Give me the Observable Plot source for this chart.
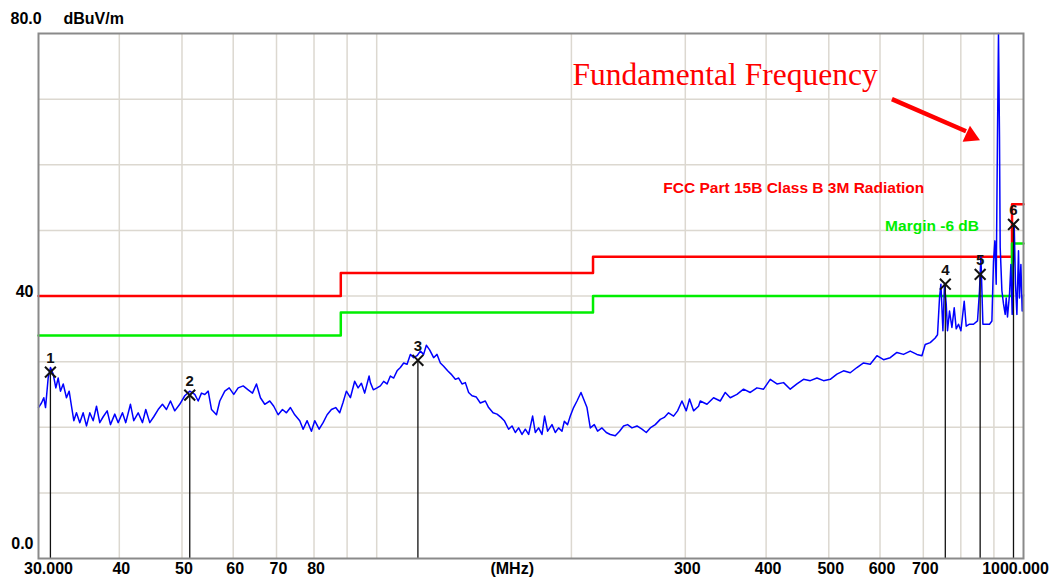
<!DOCTYPE html>
<html><head><meta charset="utf-8">
<script src="https://cdn.jsdelivr.net/npm/d3@7"></script>
<script src="https://cdn.jsdelivr.net/npm/@observablehq/plot@0.6"></script>
<style>body{margin:0;background:#fff;}</style>
</head><body><div id="chart"></div>
<script>
// Measured trace: frequency (MHz) and level (dBuV/m)
const traceFreq = [30.0,30.32,30.57,30.76,31.05,31.31,31.61,31.91,32.18,32.44,32.76,33.14,33.46,33.74,34.02,34.34,34.75,35.17,35.59,36.01,36.45,36.88,37.31,37.77,38.31,38.76,39.36,39.84,40.45,40.93,41.62,42.11,42.78,43.44,43.95,44.58,45.22,45.93,46.64,47.31,47.99,48.73,49.6,50.5,51.41,52.33,52.97,53.59,54.23,54.89,55.54,56.53,57.2,58.23,59.15,60.12,61.07,62.17,63.28,64.26,65.18,66.11,67.13,68.34,69.32,70.41,71.5,72.52,73.56,74.7,76.04,76.96,78.06,79.27,80.2,81.47,82.63,83.82,85.11,86.42,87.66,88.73,89.77,91.06,92.46,93.59,94.7,95.81,97.33,97.78,98.8,100.13,101.32,102.51,103.76,104.99,106.23,107.52,108.79,110.08,111.42,112.73,114.06,115.45,116.81,118.19,119.33,120.74,122.47,123.96,125.43,126.91,128.73,130.29,132.3,133.87,135.5,137.1,138.72,140.4,142.57,144.61,147.21,148.95,151.3,153.47,155.67,157.51,159.94,161.89,163.8,165.73,167.75,169.73,171.74,174.2,175.88,177.96,180.12,181.8,183.75,186.65,188.85,191.08,193.41,195.0,197.3,199.21,201.56,204.02,206.94,208.87,211.41,213.91,216.98,219.54,223.0,226.44,229.69,233.81,237.41,240.82,244.27,248.13,252.58,257.11,261.08,264.82,269.58,274.42,278.35,282.64,287.72,291.85,296.45,301.0,304.58,308.95,314.49,316.4,324.04,331.74,339.75,345.85,352.07,360.55,369.13,378.03,387.16,396.38,405.93,415.73,425.61,435.89,446.4,457.01,468.06,479.35,490.74,502.58,514.71,526.94,539.66,552.68,565.82,579.47,593.45,607.56,622.22,637.24,652.38,668.13,684.25,696.54,704.76,717.42,730.3,736.31,741.57,745.27,750.6,754.88,759.46,762.99,768.44,775.03,781.4,786.98,793.45,800.26,809.71,815.49,825.12,836.95,848.95,855.01,859.28,865.42,875.64,885.99,893.59,898.69,903.18,907.37,911.58,914.83,918.09,920.38,925.97,931.26,936.91,940.25,944.61,951.36,956.11,960.55,965.0,967.41,971.9,976.76,982.33,985.84,990.76,995.36,1000];
const traceLevel = [23.0,23.7,24.5,23.0,27.5,29.1,28.1,26.0,27.5,25.5,26.6,24.5,25.5,23.2,21.0,22.2,20.7,22.2,20.2,22.2,21.0,23.2,20.7,21.6,22.5,20.4,22.0,20.7,22.2,20.7,23.5,21.0,22.2,20.7,22.7,20.7,21.6,22.7,23.5,22.7,24.0,22.5,23.5,24.8,25.5,25.0,24.0,25.2,25.0,25.5,22.7,21.9,24.0,25.5,26.0,25.0,26.0,26.3,25.7,25.2,26.6,24.5,23.5,24.0,23.2,21.9,22.7,22.2,23.0,21.9,21.0,19.7,21.0,19.4,21.0,19.7,20.7,21.9,22.7,23.0,22.2,23.8,25.5,24.5,27.0,26.0,26.7,25.2,27.8,26.8,25.7,26.0,26.3,27.0,26.6,27.8,27.5,28.6,29.1,29.8,29.6,31.1,30.6,30.9,31.6,31.1,32.5,31.8,30.6,31.1,29.8,29.3,28.6,28.1,27.3,27.5,26.6,26.8,25.3,24.8,24.6,23.7,24.0,23.0,22.2,22.0,21.5,21.0,19.7,20.2,19.2,19.9,18.9,19.7,18.9,21.7,19.2,19.9,18.9,21.7,19.4,20.4,19.2,19.9,19.4,20.9,20.4,21.7,23.0,24.0,25.3,24.3,23.0,19.9,20.4,19.4,19.9,19.2,18.9,18.7,19.4,20.2,20.4,19.9,20.2,19.7,19.2,19.9,20.4,21.2,21.5,22.2,21.7,22.5,24.0,22.5,24.3,22.5,23.2,24.0,23.5,24.5,24.0,25.3,24.5,25.0,25.8,25.3,26.0,25.8,27.3,26.6,26.8,25.8,26.6,27.3,27.1,27.5,27.1,27.3,28.1,28.6,28.3,29.1,29.8,29.6,30.9,30.3,30.6,31.4,31.1,31.6,31.1,30.9,32.6,32.9,33.6,34.1,39.7,41.8,34.7,41.8,38.8,34.7,37.7,35.2,38.2,35.0,35.7,34.7,39.2,35.4,35.7,35.7,36.2,40.8,46.0,35.7,35.7,35.7,36.2,45.3,48.4,41.8,64.7,80,64.2,47.4,40.8,38.8,37.2,39.7,36.8,40.2,44.8,37.2,45.8,51.0,41.8,37.2,46.9,39.7,44.8,37.7,40.2];

// FCC Part 15B Class B 3m limit and -6 dB margin (step-after)
const limitFreq = [30, 88, 216, 960, 1000];
const limitLevel = [40, 43.5, 46, 54, 54];
const marginLevel = [34, 37.5, 40, 48, 48];

// Markers
const markerFreq = [31.3, 51.4, 115.8, 757, 857, 965];
const markerLevel = [28.4, 24.9, 30.2, 41.8, 43.3, 50.9];
const markerLabel = ["1", "2", "3", "4", "5", "6"];

// Grid and tick labels
const gridFreq = [40, 50, 60, 70, 80, 90, 100, 200, 300, 400, 500, 600, 700, 800, 900];
const gridLevel = [10, 20, 30, 40, 50, 60, 70];
const tickFreq = [40, 50, 60, 70, 80, 300, 400, 500, 600, 700];
const tickLabels = ["40", "50", "60", "70", "80", "300", "400", "500", "600", "700"];

// Annotations
const titleText = ["Fundamental Frequency"];
const titleFreq = [200.7];
const titleLevel = [72.2];
const arrowFrom = [626, 70.0];
const arrowShaftEnd = [815, 65.1];
const arrowHead = [829, 64.4];
const arrowAngle = 115;
const limitText = ["FCC Part 15B Class B 3M Radiation"];
const limitTextPos = [277.4, 55.7];
const marginText = ["Margin -6 dB"];
const marginTextPos = [611, 49.9];

const trace = traceFreq.map((f, i) => ({f, v: traceLevel[i]}));
const limit = limitFreq.map((f, i) => ({f, v: limitLevel[i]}));
const margin = limitFreq.map((f, i) => ({f, v: marginLevel[i]}));
const markers = markerFreq.map((f, i) => ({f, v: markerLevel[i], label: markerLabel[i]}));

const sans = "'Liberation Sans', Arial, sans-serif";
const serif = "'Liberation Serif', 'Times New Roman', serif";
const bold = {fontFamily: sans, fontWeight: "bold", fill: "#000"};

const chart = Plot.plot({
  width: 1054,
  height: 579,
  marginLeft: 38,
  marginRight: 31,
  marginTop: 33,
  marginBottom: 21,
  style: {background: "#fff", overflow: "visible"},
  x: {type: "log", domain: [30, 1000], axis: null},
  y: {domain: [0, 80], axis: null},
  marks: [
    Plot.ruleX(gridFreq, {x: d => d, stroke: "#dcd8d0", strokeWidth: 1.5}),
    Plot.ruleY(gridLevel, {y: d => d, stroke: "#dcd8d0", strokeWidth: 1.5}),
    Plot.line(limit, {x: "f", y: "v", curve: "step-after", stroke: "#ff0000", strokeWidth: 2.5}),
    Plot.line(margin, {x: "f", y: "v", curve: "step-after", stroke: "#00ee00", strokeWidth: 2.5}),
    Plot.line(trace, {x: "f", y: "v", stroke: "#0000ff", strokeWidth: 1.5}),
    Plot.ruleX(markers, {x: "f", y1: 0, y2: "v", stroke: "#111", strokeWidth: 1.3}),
    Plot.dot(markers, {x: "f", y: "v", symbol: "times", r: 5, stroke: "#111", strokeWidth: 2}),
    Plot.text(markers, {x: "f", y: "v", text: "label", dy: -14, fontFamily: sans, fontWeight: "bold", fontSize: 15, fill: "#111"}),
    // bottom tick labels
    Plot.text(tickFreq, {x: d => d, text: tickLabels, frameAnchor: "bottom", dy: 10, dx: 2, lineAnchor: "middle", fontSize: 16, ...bold}),
    Plot.text([30], {x: d => d, text: ["30.000"], frameAnchor: "bottom", dy: 10, dx: 10, lineAnchor: "middle", fontSize: 16, ...bold}),
    Plot.text([1000], {x: d => d, text: ["1000.000"], frameAnchor: "bottom", dy: 10, dx: -8, lineAnchor: "middle", fontSize: 16, ...bold}),
    Plot.text([162], {x: d => d, text: ["(MHz)"], frameAnchor: "bottom", dy: 10, lineAnchor: "middle", fontSize: 16, ...bold}),
    // left labels
    Plot.text([80], {y: d => d, text: ["80.0"], frameAnchor: "left", textAnchor: "start", dx: -28, dy: -14.5, lineAnchor: "middle", fontSize: 16, ...bold}),
    Plot.text([80], {y: d => d, text: ["dBuV/m"], frameAnchor: "left", textAnchor: "start", dx: 25, dy: -14.5, lineAnchor: "middle", fontSize: 16, ...bold}),
    Plot.text([40], {y: d => d, text: ["40"], frameAnchor: "left", textAnchor: "end", dx: -5, dy: -4, lineAnchor: "middle", fontSize: 16, ...bold}),
    Plot.text([0], {y: d => d, text: ["0.0"], frameAnchor: "left", textAnchor: "end", dx: -5, dy: -15, lineAnchor: "middle", fontSize: 16, ...bold}),
    // annotations
    Plot.text(titleText, {x: titleFreq, y: titleLevel, text: d => d, textAnchor: "start", lineAnchor: "bottom", fontFamily: serif, fontSize: 31.5, fill: "#ff0000"}),
    Plot.link([0], {x1: arrowFrom[0], y1: arrowFrom[1], x2: arrowShaftEnd[0], y2: arrowShaftEnd[1], stroke: "#ff0000", strokeWidth: 4.5}),
    Plot.dot([0], {x: arrowHead[0], y: arrowHead[1], symbol: "triangle", r: 6.5, fill: "#ff0000", stroke: "none", rotate: arrowAngle}),
    Plot.text(limitText, {x: [limitTextPos[0]], y: [limitTextPos[1]], text: d => d, textAnchor: "start", lineAnchor: "bottom", fontFamily: sans, fontWeight: "bold", fontSize: 15.5, fill: "#ff0000"}),
    Plot.text(marginText, {x: [marginTextPos[0]], y: [marginTextPos[1]], text: d => d, textAnchor: "start", lineAnchor: "bottom", fontFamily: sans, fontWeight: "bold", fontSize: 15.5, fill: "#00ee00"}),
    Plot.frame({stroke: "#8a8a8a", strokeWidth: 2})
  ]
});
document.getElementById("chart").appendChild(chart);
</script>
</body></html>
